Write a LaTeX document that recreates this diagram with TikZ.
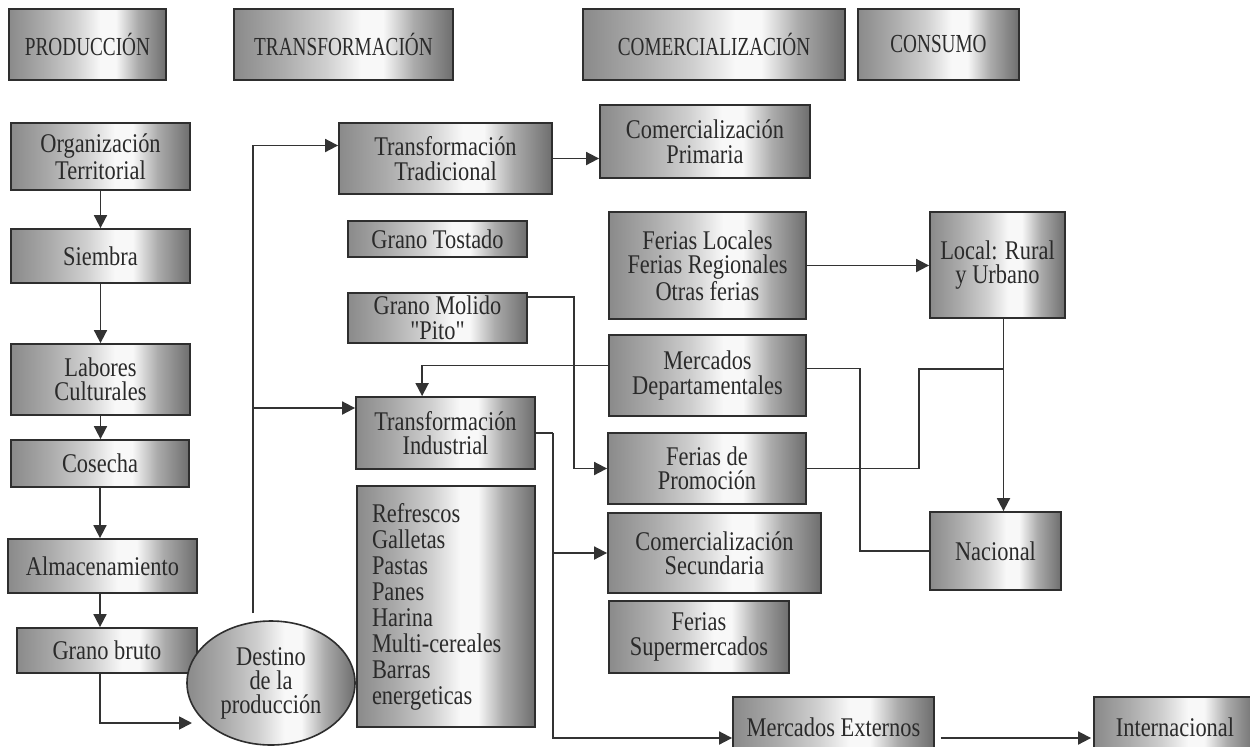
\documentclass[tikz,border=0pt]{standalone}
\usepackage{fontspec}
\setmainfont{Liberation Serif}[FakeStretch=0.83, Ligatures=TeXOff]
\newfontfamily\hdrfont{Liberation Serif}[FakeStretch=0.74, Ligatures=TeXOff]
\usetikzlibrary{arrows.meta,calc,shapes.geometric}

\definecolor{ink}{HTML}{2A2A2A}
\definecolor{edge}{HTML}{2E2E2E}
\definecolor{wire}{HTML}{333333}
\definecolor{mA}{HTML}{8A8A8A}
\definecolor{mB}{HTML}{ABABAB}
\definecolor{mC}{HTML}{CFCFCF}
\definecolor{mD}{HTML}{F8F8F8}
\definecolor{mE}{HTML}{ABABAB}
\definecolor{mF}{HTML}{6E6E6E}

% brushed-metal fill used by every box
\pgfdeclarehorizontalshading{metal}{100bp}{color(0bp)=(mA); color(25bp)=(mA); color(36bp)=(mB); color(46bp)=(mC); color(54bp)=(mD); color(59bp)=(mD); color(66bp)=(mE); color(75bp)=(mF); color(100bp)=(mF)}

\tikzset{
  box/.style={rectangle, draw=edge, line width=0.9pt, shading=metal, inner sep=0pt,
    align=center, text=ink, font=\fontsize{13.5}{12.25}\selectfont},
  hdr/.style={box, font=\hdrfont\fontsize{13}{14}\selectfont},
  wirestyle/.style={draw=wire, line width=0.9pt},
  arr/.style={wirestyle, -{Triangle[length=6.5pt,width=6.5pt]}},
}

% box given by its corners: style, name, x1, y1, x2, y2, text
\newcommand\cornerbox[7]{%
  \node[#1, minimum width={(#5-#3)*0.5pt}, minimum height={(#6-#4)*0.5pt}]
    (#2) at ({(#3+#5)/2},{(#4+#6)/2}) {#7};}

\begin{document}
\begin{tikzpicture}[x=0.5pt,y=-0.5pt]
\fill[white] (0,0) rectangle (1250,746);
\useasboundingbox (0,0) rectangle (1250,746);

% column headers
\cornerbox{hdr}{prod}{9}{9}{166}{80}{PRODUCCIÓN}
\cornerbox{hdr}{trans}{234}{9}{453}{80}{TRANSFORMACIÓN}
\cornerbox{hdr}{comer}{583}{9}{845}{80}{COMERCIALIZACIÓN}
\cornerbox{hdr}{cons}{858}{9}{1019}{80}{CONSUMO}

% production chain
\cornerbox{box}{org}{11}{123}{190}{190}{Organización\\Territorial}
\cornerbox{box}{sie}{11}{229}{190}{283}{Siembra}
\cornerbox{box}{lab}{11}{344}{190}{415}{Labores\\Culturales}
\cornerbox{box}{cos}{11}{440}{189}{487}{Cosecha}
\cornerbox{box}{alm}{8}{539}{197}{593}{Almacenamiento}
\cornerbox{box}{gb}{17}{628}{197}{673}{Grano bruto}
\node[ellipse, draw=edge, line width=0.8pt, shading=metal, inner sep=0pt,
  minimum width=84pt, minimum height=62pt, align=center, text=ink,
  font=\fontsize{13.5}{12}\selectfont] (dest) at (271,683) {Destino\\de la\\producción};

% transformation
\cornerbox{box}{tt}{339}{123}{552}{194}{Transformación\\Tradicional}
\cornerbox{box}{gt}{348}{221}{527}{257}{Grano Tostado}
\cornerbox{box}{gm}{348}{293}{527}{343}{Grano Molido\\"Pito"}
\cornerbox{box}{ti}{356}{397}{535}{469}{Transformación\\Industrial}
\cornerbox{box, align=left, text width=74pt, font=\fontsize{13.5}{13}\selectfont}{prodlist}{357}{486}{535}{727}{Refrescos\\Galletas\\Pastas\\Panes\\Harina\\Multi-cereales\\Barras\\energeticas}

% commercialisation
\cornerbox{box}{cp}{600}{105}{810}{178}{Comercialización\\Primaria}
\cornerbox{box}{fl}{609}{212}{806}{319}{Ferias Locales\\Ferias Regionales\\Otras ferias}
\cornerbox{box}{md}{609}{335}{806}{416}{Mercados\\Departamentales}
\cornerbox{box}{fp}{608}{433}{806}{504}{Ferias de\\Promoción}
\cornerbox{box}{cs}{608}{513}{821}{593}{Comercialización\\Secundaria}
\cornerbox{box}{fs}{609}{601}{789}{673}{Ferias\\Supermercados}
\cornerbox{box}{me}{733}{697}{934}{757}{Mercados Externos}

% consumption
\cornerbox{box}{loc}{930}{212}{1065}{318}{Local: Rural\\y Urbano}
\cornerbox{box}{nac}{930}{512}{1061}{590}{Nacional}
\cornerbox{box}{int}{1094}{697}{1256}{757}{Internacional}

% production flow
\draw[arr] (org.south) -- (org.south |- sie.north);
\draw[arr] (sie.south) -- (sie.south |- lab.north);
\draw[arr] (lab.south) -- (lab.south |- cos.north);
\draw[arr] (cos.south) -- (cos.south |- alm.north);
\draw[arr] (cos.south |- alm.south) -- (cos.south |- gb.north);
\coordinate (gbend) at (192,723);
\draw[arr] (cos.south |- gb.south) |- (gbend);

% destination trunk
\coordinate (trunk) at (253,613);
\coordinate (ttin) at ($(tt.west)+(0,-13)$);
\coordinate (tiin) at ($(ti.west)+(0,-25)$);
\draw[arr] (trunk) |- (ttin);
\draw[arr] (trunk |- tiin) -- (tiin);

% transformation outputs
\draw[arr] (tt.east) -- (tt.east -| cp.west);
\draw[arr] ($(gm.north east)+(0,5)$) -- ++(46,0) |- (fp.west);
\coordinate (tiout) at ($(ti.east)+(17,0)$);
\draw[wirestyle] (ti.east) -- (tiout);
\draw[arr] (tiout) |- ($(me.west)+(0,11)$);
\draw[arr] (tiout |- cs.west) -- (cs.west);
\draw[arr] ($(md.west)+(0,-10)$) -| ($(ti.north west)+(67,0)$);

% markets to consumers
\draw[arr] (fl.east) -- (fl.east -| loc.west);
\draw[wirestyle] ($(md.east)+(0,-7)$) -- ++(53,0) |- (nac.west);
\coordinate (locout) at ($(loc.south)+(6,0)$);
\coordinate (junc) at ($(locout)+(0,50)$);
\draw[wirestyle] (fp.east) -- ++(112,0) |- (junc);
\draw[arr] (locout) -- (locout |- nac.north);
\draw[arr] ($(me.east)+(6,11)$) -- ($(int.west)+(-2,11)$);
\end{tikzpicture}
\end{document}
